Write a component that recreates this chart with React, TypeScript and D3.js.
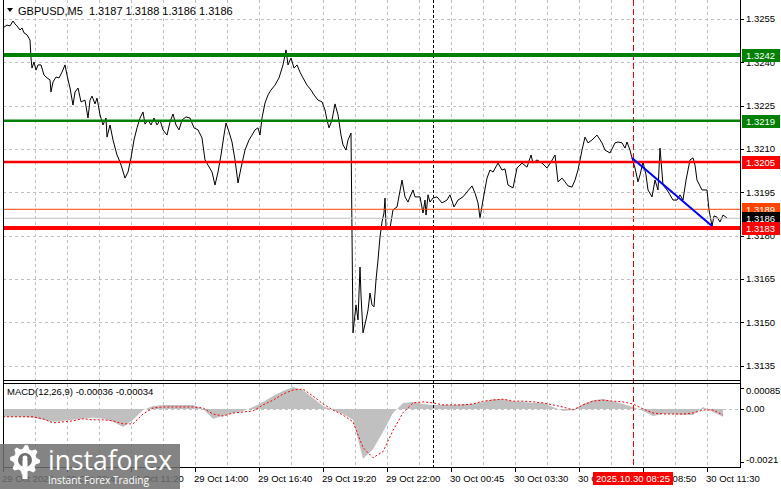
import React, { useEffect, useRef } from 'react';
import * as d3 from 'd3';

const W = 781;
const H = 489;

// header texts
const symbolTitle = 'GBPUSD,M5  1.3187 1.3188 1.3186 1.3186';
const macdTitle = 'MACD(12,26,9) -0.00036 -0.00034';

// price axis
const priceTicks = [1.3255, 1.324, 1.3225, 1.321, 1.3195, 1.318, 1.3165, 1.315, 1.3135];

// macd axis
const macdTicks = [0.00085, 0, -0.0021];
const macdTickLabels = ['0.00085', '0.00', '-0.0021'];

// time axis (bar index, M5 bars from 29 Oct 06:00)
const timeBars = [0, 32, 64, 96, 128, 160, 192, 224, 256, 288, 320, 352];
const timeLabels = [
    '29 Oct 2025', '29 Oct 08:40', '29 Oct 11:20', '29 Oct 14:00', '29 Oct 16:40', '29 Oct 19:20',
    '29 Oct 22:00', '30 Oct 00:45', '30 Oct 03:30', '30 Oct 06:10', '30 Oct 08:50', '30 Oct 11:30',
];

// close prices (bar index / price)
const closeBars = [
    0, 2, 3.5, 5, 6, 7, 8.5, 9.5, 10.5, 12, 13.5, 14, 14.5, 15.5, 16.5, 17.5, 19, 20.5, 22, 23.5,
    24, 25, 26.5, 28, 29.5, 31, 32, 33.5, 35, 36, 37.5, 39, 41, 42.5, 43.5, 44.5, 46, 47, 48.5, 50,
    51.5, 52, 53.5, 55, 57, 58.5, 59.5, 61, 62.5, 64, 65.5, 67, 68.5, 70, 71, 72.5, 74, 75.5, 77, 78.5,
    80, 82, 83.5, 85, 86.5, 88, 89.5, 91.5, 93.5, 95.5, 97.5, 99.5, 101, 102.5, 104.5, 106, 107.5, 109, 110.5, 111.5,
    113, 114.5, 116, 117.5, 119, 121, 123, 124.5, 126, 127.5, 128.5, 129.5, 131, 132.5, 134, 136, 138, 140, 141, 141.5,
    142.5, 144, 145.5, 147, 148.5, 150, 152, 154, 155.5, 157.5, 159.5, 161, 162, 163, 164.5, 166, 167.5, 169, 170, 171.5,
    172.5, 174, 175, 176.5, 177.5, 178.5, 179, 180, 181.5, 182.5, 183.5, 184.5, 185.5, 186.5, 187.5, 188.5, 189.5, 190.5, 191, 191.5,
    193.5, 195, 197, 199.5, 201, 202.5, 203.5, 205, 206, 208.5, 210, 211, 211.5, 212.5, 213.5, 215, 217, 219.5, 222, 223.5,
    225.5, 227.5, 230, 232, 234.5, 236, 237.5, 238.5, 240, 242, 243.5, 245, 247.5, 249.5, 251, 252.5, 255, 257, 259.5, 262,
    264, 265, 267, 269.5, 272, 274, 276, 277.5, 279.5, 281, 282.5, 284.5, 286, 287.5, 289.5, 291, 292.5, 294.5, 297, 299.5,
    301, 303.5, 306, 307.5, 309.5, 311, 312, 313.5, 314.5, 316, 317.5, 318.5, 320, 321.5, 322.5, 324.5, 326, 327.5, 328.5, 330,
    332, 333.5, 335, 337, 338.5, 340, 341.5, 343.5, 345, 346, 347, 349.5, 352, 353, 354.5, 355.5, 357, 358.5, 360, 362,
];
const closePrices = [
    1.32519, 1.32529, 1.32526, 1.32543, 1.32533, 1.32526, 1.32512, 1.32519, 1.32502, 1.32495, 1.32477, 1.32415, 1.3238, 1.32401, 1.32373, 1.32391, 1.32391, 1.32356, 1.32346, 1.32339,
    1.32297, 1.32332, 1.32349, 1.32346, 1.32366, 1.32391, 1.32356, 1.32311, 1.32252, 1.32297, 1.32311, 1.32263, 1.32269, 1.32207, 1.32269, 1.32283, 1.32256, 1.32276, 1.32218, 1.32183,
    1.32207, 1.32141, 1.32183, 1.32131, 1.32079, 1.32055, 1.32034, 1.31999, 1.3202, 1.32069, 1.32131, 1.32173, 1.32207, 1.32228, 1.32186, 1.322, 1.32183, 1.32207, 1.32183, 1.322,
    1.32166, 1.32148, 1.32193, 1.32221, 1.32183, 1.32166, 1.322, 1.32211, 1.32207, 1.32173, 1.32166, 1.32138, 1.32062, 1.32044, 1.3202, 1.31975, 1.3202, 1.32079, 1.32148, 1.3219,
    1.32159, 1.32124, 1.32062, 1.31982, 1.32034, 1.32096, 1.32131, 1.32148, 1.32166, 1.32173, 1.32148, 1.32207, 1.32259, 1.32287, 1.32304, 1.32321, 1.32346, 1.32391, 1.32425, 1.32443,
    1.32391, 1.32415, 1.3238, 1.32391, 1.32366, 1.32346, 1.32321, 1.32304, 1.32287, 1.32269, 1.32263, 1.32235, 1.322, 1.32173, 1.322, 1.32256, 1.32218, 1.32148, 1.32114, 1.32096,
    1.32131, 1.32155, 1.31463, 1.3156, 1.31508, 1.31691, 1.31594, 1.31463, 1.31508, 1.31542, 1.31601, 1.3156, 1.31553, 1.31646, 1.31715, 1.31795, 1.31847, 1.31878, 1.3193, 1.3183,
    1.31826, 1.31889, 1.31899, 1.31992, 1.31934, 1.31916, 1.31934, 1.31958, 1.31934, 1.31934, 1.31878, 1.31923, 1.31871, 1.31941, 1.31916, 1.3193, 1.31934, 1.31913, 1.31923, 1.31941,
    1.31899, 1.31923, 1.31934, 1.31951, 1.31972, 1.31947, 1.31913, 1.31861, 1.31923, 1.31999, 1.32027, 1.3202, 1.32051, 1.32027, 1.32031, 1.31975, 1.31965, 1.32034, 1.32051, 1.32037,
    1.32079, 1.32051, 1.32062, 1.32051, 1.32034, 1.32055, 1.32079, 1.31986, 1.31999, 1.31986, 1.31972, 1.31968, 1.31992, 1.32027, 1.32096, 1.32141, 1.32121, 1.32131, 1.32148, 1.32121,
    1.32096, 1.32086, 1.32121, 1.32124, 1.32121, 1.32103, 1.32124, 1.32096, 1.32069, 1.32034, 1.31986, 1.3201, 1.32055, 1.3201, 1.31958, 1.31934, 1.31992, 1.31958, 1.32103, 1.31975,
    1.31958, 1.31941, 1.31923, 1.31923, 1.31941, 1.31923, 1.31992, 1.32062, 1.32069, 1.32044, 1.31992, 1.31958, 1.31958, 1.31889, 1.31833, 1.31868, 1.31864, 1.31847, 1.31871, 1.31861,
];

// horizontal levels
const levelPrices = [1.32425, 1.32198, 1.32055, 1.31891, 1.3186, 1.31826];
const levelLabels = ['1.3242', '1.3219', '1.3205', '1.3189', '1.3186', '1.3183'];

// trend line
const trendBars = [314.5, 354.5];
const trendPrices = [1.32069, 1.31833];

const separatorBar = 215;
const cursorBar = 315;
const cursorLabel = '2025.10.30 08:25';

// MACD, one value every 5 bars, in 1e-5
const macdStep = 5;
const macdMain = [
    -31, -31, -31, -35, -43, -51, -47, -43, -39, -35, -39, -51, -71, -43, -4, 12, 16, 16, 16, 16,
    0, -39, -28, -16, -8, 8, 28, 51, 71, 87, 75, 43, 12, -4, -20, -43, -197, -160, -90, -16,
    24, 28, 20, 16, 16, 16, 20, 20, 28, 39, 39, 31, 28, 24, 24, 8, -8, -4, 20, 35,
    39, 31, 20, 8, -8, -28, -20, -20, -24, -24, 8, -12, -31,
];
const macdSignal = [
    -31, -31, -31, -31, -39, -55, -51, -47, -39, -43, -43, -47, -59, -59, -20, 4, 8, 8, 8, 8,
    4, -20, -28, -16, -12, -8, 16, 35, 59, 75, 79, 51, 20, -4, -24, -51, -153, -193, -169, -85,
    -15, 24, 28, 24, 16, 16, 16, 20, 31, 35, 39, 31, 31, 28, 24, 16, 8, -4, 16, 31,
    35, 31, 28, 20, 0, -16, -20, -20, -20, -16, -4, -4, -24,
];

const levelStyles = [
    { stroke: '#008000', width: 4, box: '#008000' },
    { stroke: '#008000', width: 2.5, box: '#008000' },
    { stroke: '#ff0000', width: 2.5, box: '#ff0000' },
    { stroke: '#ff4500', width: 1, box: '#ff4500' },
    { stroke: '#c0c0c0', width: 1, box: '#000000' },
    { stroke: '#ff0000', width: 4, box: '#ff0000' },
];

const FONT = "'Liberation Sans', Arial, sans-serif";

export default function App() {
    const svgRef = useRef<SVGSVGElement>(null);

    useEffect(() => {
        if (!svgRef.current) return;
        const svg = d3.select(svgRef.current);
        svg.selectAll('*').remove();

        const left = 3, right = 740;
        const mainBottom = 380, macdTop = 383, macdBottom = 467;

        const x = d3.scaleLinear().domain([0, 368.5]).range([left, right]);
        const y = d3.scaleLinear().domain([1.3135, 1.3255]).range([365.5, 19]);
        const ym = d3.scaleLinear().domain([-0.0021, 0.00085]).range([462, 387.5]);

        svg.append('rect').attr('width', W).attr('height', H).attr('fill', '#fff');

        const defs = svg.append('defs');
        defs.append('clipPath').attr('id', 'main-clip')
            .append('rect').attr('x', left).attr('y', 0).attr('width', right - left).attr('height', mainBottom);
        defs.append('clipPath').attr('id', 'macd-clip')
            .append('rect').attr('x', left).attr('y', macdTop).attr('width', right - left).attr('height', macdBottom - macdTop);

        // grid
        const grid = svg.append('g')
            .attr('stroke', '#c0c0c0').attr('stroke-dasharray', '3,3').attr('shape-rendering', 'crispEdges');
        const gridBars = d3.range(16, 360, 16);
        grid.selectAll('line.v').data(gridBars).join('line')
            .attr('x1', d => Math.round(x(d)) + 0.5).attr('x2', d => Math.round(x(d)) + 0.5)
            .attr('y1', 0).attr('y2', macdBottom);
        grid.selectAll('line.h').data(priceTicks).join('line')
            .attr('x1', left).attr('x2', right)
            .attr('y1', d => Math.round(y(d)) + 0.5).attr('y2', d => Math.round(y(d)) + 0.5);
        grid.append('line')
            .attr('x1', left).attr('x2', right)
            .attr('y1', Math.round(ym(0)) + 0.5).attr('y2', Math.round(ym(0)) + 0.5);

        // macd histogram + signal
        const macdG = svg.append('g').attr('clip-path', 'url(#macd-clip)');
        const area = d3.area<number>()
            .x((d, i) => x(i * macdStep))
            .y0(ym(0))
            .y1(d => ym(d * 1e-5));
        macdG.append('path').datum(macdMain).attr('d', area).attr('fill', '#c0c0c0');
        const sigLine = d3.line<number>()
            .x((d, i) => x(i * macdStep))
            .y(d => ym(d * 1e-5));
        macdG.append('path').datum(macdSignal).attr('d', sigLine)
            .attr('fill', 'none').attr('stroke', '#ff0000').attr('stroke-width', 1)
            .attr('stroke-dasharray', '2,2');

        // separators
        svg.append('line')
            .attr('x1', Math.round(x(separatorBar)) + 0.5).attr('x2', Math.round(x(separatorBar)) + 0.5)
            .attr('y1', 0).attr('y2', macdBottom)
            .attr('stroke', '#000').attr('stroke-dasharray', '3,2').attr('shape-rendering', 'crispEdges');
        svg.append('line')
            .attr('x1', Math.round(x(cursorBar)) + 0.5).attr('x2', Math.round(x(cursorBar)) + 0.5)
            .attr('y1', 0).attr('y2', macdBottom)
            .attr('stroke', '#ff0000').attr('stroke-dasharray', '6,3').attr('shape-rendering', 'crispEdges');

        // price line
        const mainG = svg.append('g').attr('clip-path', 'url(#main-clip)');
        const pts = closeBars.map((b, i) => [b, closePrices[i]] as [number, number]);
        mainG.append('path').datum(pts)
            .attr('d', d3.line<[number, number]>().x(d => x(d[0])).y(d => y(d[1])))
            .attr('fill', 'none').attr('stroke', '#000').attr('stroke-width', 1);

        // levels
        levelPrices.forEach((p, i) => {
            const s = levelStyles[i];
            mainG.append('line')
                .attr('x1', left).attr('x2', right)
                .attr('y1', y(p)).attr('y2', y(p))
                .attr('stroke', s.stroke).attr('stroke-width', s.width);
        });

        // trend line
        mainG.append('line')
            .attr('x1', x(trendBars[0])).attr('y1', y(trendPrices[0]))
            .attr('x2', x(trendBars[1])).attr('y2', y(trendPrices[1]))
            .attr('stroke', '#0000ff').attr('stroke-width', 2);

        // frames
        const frame = svg.append('g').attr('stroke', '#000').attr('shape-rendering', 'crispEdges');
        frame.append('line').attr('x1', left + 0.5).attr('x2', left + 0.5).attr('y1', 0).attr('y2', macdBottom);
        frame.append('line').attr('x1', right + 0.5).attr('x2', right + 0.5).attr('y1', 0).attr('y2', macdBottom + 1);
        frame.append('line').attr('x1', left).attr('x2', right).attr('y1', mainBottom + 0.5).attr('y2', mainBottom + 0.5);
        frame.append('line').attr('x1', left).attr('x2', right).attr('y1', macdTop + 0.5).attr('y2', macdTop + 0.5);
        frame.append('line').attr('x1', left).attr('x2', right).attr('y1', macdBottom + 0.5).attr('y2', macdBottom + 0.5);

        const text = (g: any) => g.attr('font-family', FONT).attr('font-size', '9.5px').attr('fill', '#000');

        // price axis
        const pAxis = svg.append('g');
        pAxis.selectAll('line').data(priceTicks).join('line')
            .attr('x1', right).attr('x2', right + 4)
            .attr('y1', d => Math.round(y(d)) + 0.5).attr('y2', d => Math.round(y(d)) + 0.5)
            .attr('stroke', '#000').attr('shape-rendering', 'crispEdges');
        pAxis.selectAll('text').data(priceTicks).join('text')
            .call(text)
            .attr('x', right + 6).attr('y', d => y(d)).attr('dy', '0.35em')
            .text(d => d.toFixed(4));

        // macd axis
        const mAxis = svg.append('g');
        mAxis.selectAll('line').data(macdTicks).join('line')
            .attr('x1', right).attr('x2', right + 4)
            .attr('y1', d => Math.round(ym(d)) + 0.5).attr('y2', d => Math.round(ym(d)) + 0.5)
            .attr('stroke', '#000').attr('shape-rendering', 'crispEdges');
        mAxis.selectAll('text').data(macdTicks).join('text')
            .call(text)
            .attr('x', right + 6).attr('y', (d, i) => ym(d) + (i === 0 ? 3 : i === 2 ? -2 : 0)).attr('dy', '0.35em')
            .text((d, i) => macdTickLabels[i]);

        // level labels
        levelPrices.forEach((p, i) => {
            const cy = Math.round(y(p));
            svg.append('rect')
                .attr('x', right + 2).attr('y', cy - 6).attr('width', 38).attr('height', 13)
                .attr('fill', levelStyles[i].box);
            svg.append('text').call(text)
                .attr('x', right + 6).attr('y', cy + 0.5).attr('dy', '0.35em')
                .attr('fill', '#fff').text(levelLabels[i]);
        });

        // time axis
        const tAxis = svg.append('g');
        tAxis.selectAll('line').data(timeBars).join('line')
            .attr('x1', d => Math.round(x(d)) + 0.5).attr('x2', d => Math.round(x(d)) + 0.5)
            .attr('y1', macdBottom).attr('y2', macdBottom + 5)
            .attr('stroke', '#000').attr('shape-rendering', 'crispEdges');
        tAxis.selectAll('text').data(timeBars).join('text')
            .call(text)
            .attr('x', d => x(d) - 1).attr('y', 482)
            .text((d, i) => timeLabels[i]);

        // cursor date box
        const cx = Math.round(x(cursorBar));
        svg.append('rect').attr('x', cx - 40).attr('y', 472).attr('width', 80).attr('height', 13).attr('fill', '#ff0000');
        svg.append('text').call(text).attr('x', cx).attr('y', 482).attr('text-anchor', 'middle')
            .attr('fill', '#fff').text(cursorLabel);

        // titles
        svg.append('path').attr('d', 'M7,8 L13,8 L10,12 Z').attr('fill', '#000');
        svg.append('text').call(text).attr('x', 18).attr('y', 15).attr('font-size', '11px')
            .attr('xml:space', 'preserve').text(symbolTitle);
        svg.append('text').call(text).attr('x', 7).attr('y', 395).text(macdTitle);

        // watermark
        const logo = svg.append('g');
        logo.append('rect').attr('x', 0).attr('y', 444).attr('width', 180).attr('height', 45)
            .attr('fill', '#6e6e6e').attr('opacity', 0.85);
        const gx = 25, gy = 460;
        const teeth = 8;
        const gearPts: [number, number][] = [];
        for (let k = 0; k < teeth * 4; k++) {
            const a = (k / (teeth * 4)) * Math.PI * 2 - Math.PI / 2;
            const r = (k % 4 === 0 || k % 4 === 1) ? 15 : 11.5;
            gearPts.push([gx + r * Math.cos(a), gy + r * Math.sin(a)]);
        }
        logo.append('path').attr('d', d3.line()(gearPts) + 'Z').attr('fill', '#fff');
        logo.append('circle').attr('cx', gx).attr('cy', gy).attr('r', 7).attr('fill', '#6e6e6e');
        logo.append('circle').attr('cx', gx).attr('cy', gy - 2).attr('r', 2.5).attr('fill', '#fff');
        logo.append('rect').attr('x', gx - 2.5).attr('y', gy).attr('width', 5).attr('height', 19).attr('fill', '#fff');
        logo.append('text').attr('x', 48).attr('y', 470)
            .attr('font-family', "'Open Sans', sans-serif").attr('font-size', '27px')
            .attr('fill', '#fff').attr('textLength', 124).attr('lengthAdjust', 'spacingAndGlyphs')
            .text('instaforex');
        logo.append('text').attr('x', 48).attr('y', 484)
            .attr('font-family', "'Open Sans', sans-serif").attr('font-size', '10.5px')
            .attr('fill', '#fff').attr('textLength', 101).attr('lengthAdjust', 'spacingAndGlyphs')
            .text('Instant Forex Trading');
    }, []);

    return (
        <div style={{ position: 'absolute', left: 0, top: 0 }}>
            <svg ref={svgRef} width={W} height={H} style={{ display: 'block' }} />
        </div>
    );
}
